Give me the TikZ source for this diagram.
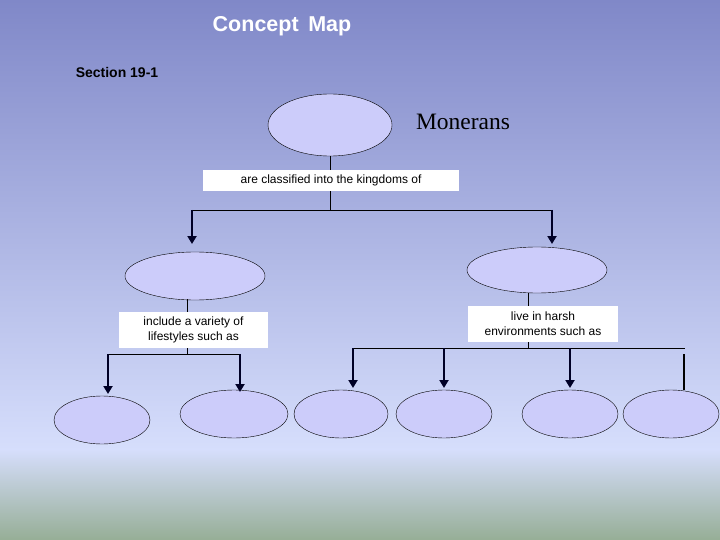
\documentclass[tikz,border=0pt]{standalone}
\usepackage{fontspec}
\setmainfont{Liberation Sans}
\newfontfamily\serifff{Liberation Serif}
\usetikzlibrary{arrows.meta,shapes.geometric}
\definecolor{bgtop}{RGB}{128,136,200}
\definecolor{bgmid}{RGB}{214,222,252}
\definecolor{bgbot}{RGB}{150,174,150}
\definecolor{ellfill}{RGB}{204,204,250}
\tikzset{
  ell/.style={draw=black, fill=ellfill, shape=ellipse, inner sep=0pt, thin},
  lbl/.style={fill=white, font=\fontsize{12}{15}\selectfont, align=center, inner sep=0pt},
  conn/.style={draw=black, line width=0.7pt},
  arr/.style={draw=black!85!blue, line width=2pt, -{Triangle[length=8pt,width=9pt]}},
}
\begin{document}
\begin{tikzpicture}[x=1pt,y=-1pt]
\useasboundingbox (0,0) rectangle (720,540);
\shade[top color=bgtop, bottom color=bgmid] (0,0) rectangle (720,450);
\shade[top color=bgmid, bottom color=bgbot] (0,449.5) rectangle (720,540);
\node[font=\bfseries\fontsize{21.5}{24}\selectfont, text=white] (title) at (282,26) {Concept\, Map};
\node[font=\bfseries\fontsize{14}{16}\selectfont] (sec) at (117,72) {Section 19-1};
\node[font=\serifff\fontsize{23.5}{26}\selectfont] (mon) at (463,122) {Monerans};
% ellipses
\node[ell, minimum width=124, minimum height=62] (e0) at (330,125) {};
\node[ell, minimum width=140, minimum height=48] (eL) at (195,276) {};
\node[ell, minimum width=140, minimum height=46] (eR) at (537,270) {};
\node[ell, minimum width=96, minimum height=48] (b1e) at (102,420) {};
\node[ell, minimum width=108, minimum height=48] (b2e) at (234,414) {};
\node[ell, minimum width=94, minimum height=48] (c1e) at (341,414) {};
\node[ell, minimum width=96, minimum height=48] (c2e) at (444,414) {};
\node[ell, minimum width=96, minimum height=48] (c3e) at (570,414) {};
\node[ell, minimum width=96, minimum height=48] (c4e) at (671,414) {};
% level 1
\draw[conn] (e0.south) -- (330,210);
\node[lbl, minimum width=256, minimum height=21] (l1) at (331,180.5) {are classified into the kingdoms of};
\draw[conn] (192,210) -- (552,210);
\draw[arr] (192,210) -- (192,244);
\draw[arr] (552,210) -- (552,244);
% left
\draw[conn] (187,299) -- (187,354);
\node[lbl, minimum width=149, minimum height=36] (l2) at (193.5,330) {include a variety of\\lifestyles such as};
\draw[conn] (108,354) -- (240,354);
\draw[arr] (108,354) -- (108,394);
\draw[arr] (240,354) -- (240,392);
% right
\draw[conn] (528,293) -- (528,348);
\node[lbl, minimum width=150, minimum height=36] (l3) at (543,324) {live in harsh\\environments such as};
\draw[conn] (353,348) -- (685,348);
\draw[arr] (353,348) -- (353,388);
\draw[arr] (444,348) -- (444,388);
\draw[arr] (570,348) -- (570,388);
\draw[draw=black, line width=2pt] (684,354) -- (c4e.north -| 684,0);
\end{tikzpicture}
\end{document}
